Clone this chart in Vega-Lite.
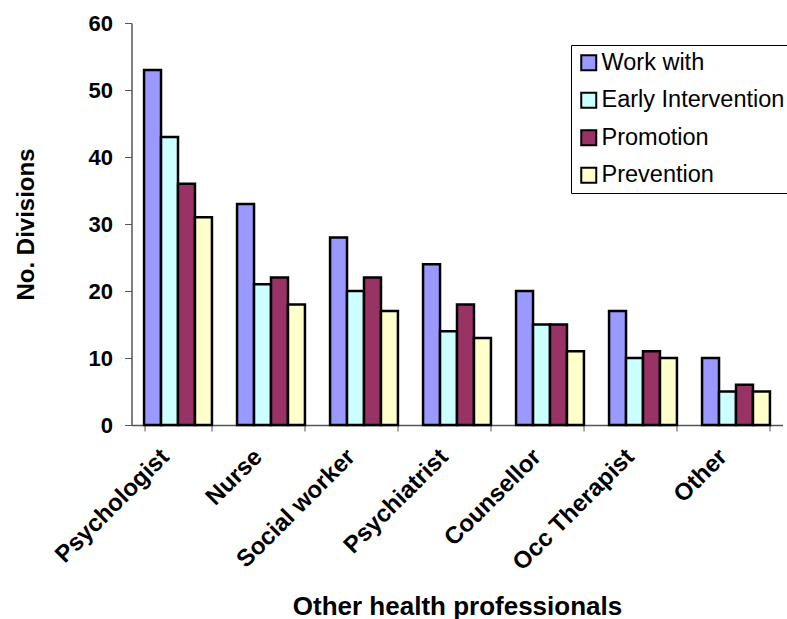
{
  "$schema": "https://vega.github.io/schema/vega-lite/v6.json",
  "width": 651,
  "height": 402,
  "autosize": {"type": "none"},
  "padding": {"left": 131.5, "top": 23, "right": 4.5, "bottom": 194},
  "background": "white",
  "config": {
    "view": {"stroke": null},
    "font": "Liberation Sans"
  },
  "data": {
    "values": [
      {"profession": "Psychologist", "role": "Work with", "divisions": 53},
      {"profession": "Psychologist", "role": "Early Intervention", "divisions": 43},
      {"profession": "Psychologist", "role": "Promotion", "divisions": 36},
      {"profession": "Psychologist", "role": "Prevention", "divisions": 31},
      {"profession": "Nurse", "role": "Work with", "divisions": 33},
      {"profession": "Nurse", "role": "Early Intervention", "divisions": 21},
      {"profession": "Nurse", "role": "Promotion", "divisions": 22},
      {"profession": "Nurse", "role": "Prevention", "divisions": 18},
      {"profession": "Social worker", "role": "Work with", "divisions": 28},
      {"profession": "Social worker", "role": "Early Intervention", "divisions": 20},
      {"profession": "Social worker", "role": "Promotion", "divisions": 22},
      {"profession": "Social worker", "role": "Prevention", "divisions": 17},
      {"profession": "Psychiatrist", "role": "Work with", "divisions": 24},
      {"profession": "Psychiatrist", "role": "Early Intervention", "divisions": 14},
      {"profession": "Psychiatrist", "role": "Promotion", "divisions": 18},
      {"profession": "Psychiatrist", "role": "Prevention", "divisions": 13},
      {"profession": "Counsellor", "role": "Work with", "divisions": 20},
      {"profession": "Counsellor", "role": "Early Intervention", "divisions": 15},
      {"profession": "Counsellor", "role": "Promotion", "divisions": 15},
      {"profession": "Counsellor", "role": "Prevention", "divisions": 11},
      {"profession": "Occ Therapist", "role": "Work with", "divisions": 17},
      {"profession": "Occ Therapist", "role": "Early Intervention", "divisions": 10},
      {"profession": "Occ Therapist", "role": "Promotion", "divisions": 11},
      {"profession": "Occ Therapist", "role": "Prevention", "divisions": 10},
      {"profession": "Other", "role": "Work with", "divisions": 10},
      {"profession": "Other", "role": "Early Intervention", "divisions": 5},
      {"profession": "Other", "role": "Promotion", "divisions": 6},
      {"profession": "Other", "role": "Prevention", "divisions": 5}
    ]
  },
  "mark": {"type": "bar", "stroke": "black", "strokeWidth": 2.5, "strokeJoin": "miter"},
  "encoding": {
    "x": {
      "field": "profession",
      "type": "nominal",
      "sort": null,
      "scale": {"paddingInner": 0.27, "paddingOuter": 0.135},
      "axis": {
        "title": "Other health professionals",
        "titleFontSize": 26,
        "titleFontWeight": "bold",
        "titleColor": "black",
        "titleBaseline": "alphabetic",
        "titleY": 189,
        "labelAngle": -45,
        "labelAlign": "right",
        "labelBaseline": "middle",
        "labelFontSize": 24,
        "labelFontWeight": "bold",
        "labelColor": "black",
        "labelPadding": 22,
        "labelOffset": -13,
        "tickBand": "extent",
        "tickSize": 6,
        "tickColor": "#555555",
        "domainColor": "#555555",
        "domainWidth": 1.5
      }
    },
    "xOffset": {
      "field": "role",
      "type": "nominal",
      "sort": ["Work with", "Early Intervention", "Promotion", "Prevention"]
    },
    "y": {
      "field": "divisions",
      "type": "quantitative",
      "scale": {"domain": [0, 60], "nice": false},
      "axis": {
        "title": "No. Divisions",
        "titleFontSize": 24,
        "titleFontWeight": "bold",
        "titleColor": "black",
        "titleBaseline": "alphabetic",
        "titleX": -98.5,
        "values": [0, 10, 20, 30, 40, 50, 60],
        "grid": false,
        "labelFontSize": 22,
        "labelFontWeight": "bold",
        "labelColor": "black",
        "labelPadding": 12,
        "tickSize": 7,
        "tickColor": "#555555",
        "domainColor": "#555555",
        "domainWidth": 1.5
      }
    },
    "fill": {
      "field": "role",
      "type": "nominal",
      "sort": ["Work with", "Early Intervention", "Promotion", "Prevention"],
      "scale": {
        "domain": ["Work with", "Early Intervention", "Promotion", "Prevention"],
        "range": ["#9999FF", "#CCFFFF", "#993366", "#FFFFCC"]
      },
      "legend": {
        "title": null,
        "orient": "none",
        "legendX": 439.5,
        "legendY": 22,
        "strokeColor": "black",
        "fillColor": "white",
        "padding": 6,
        "symbolType": "square",
        "symbolSize": 225,
        "symbolStrokeColor": "black",
        "symbolStrokeWidth": 2,
        "symbolOpacity": 1,
        "labelFontSize": 23.5,
        "labelColor": "black",
        "labelOffset": 1,
        "rowPadding": 12.5,
        "labelLimit": 400
      }
    }
  }
}
